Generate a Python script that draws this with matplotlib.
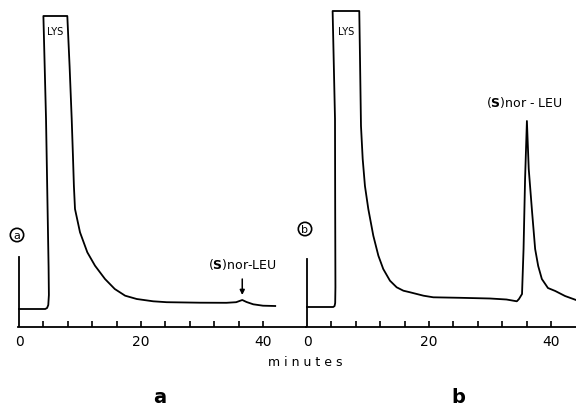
import matplotlib
matplotlib.use("Agg")
import matplotlib.pyplot as plt
from matplotlib.ticker import FixedLocator

# ---- data (minutes, detector response in arbitrary units) ----
a_time = [0, 4.3, 4.6, 4.8, 4.9, 4.85, 4.43, 4.0, 7.92, 8.3, 8.64, 8.85, 9.0, 9.18,
          10.0, 11.2, 12.46, 14.1, 15.7, 17.4, 19.3, 22.0, 24.2, 29.7, 34.0, 35.6,
          36.6, 37.3, 38.4, 40.0, 42.0]
a_resp = [18, 18, 19, 22, 32, 60, 208, 311, 311, 260, 208, 170, 141, 118,
          94.7, 74.7, 61.3, 48, 38, 31.3, 28, 25.7, 24.8, 24.3, 24.2, 24.8,
          27, 25, 22.7, 21.3, 21]

b_time = [0, 4.3, 4.52, 4.62, 4.66, 4.62, 4.59, 4.2, 8.57, 8.69, 8.85, 9.13, 9.5,
          10.05, 10.87, 11.7, 12.5, 13.6, 14.7, 15.8, 16.9, 19.1, 20.7, 25.1,
          30.0, 32.7, 34.4, 34.75, 35.25, 35.5, 35.75, 36.05, 36.35, 36.9, 37.4,
          37.9, 38.5, 39.5, 40.7, 42.3, 44.1]
b_resp = [20, 20, 21, 24, 40, 120, 208, 316, 316, 268, 201, 168, 141,
          118, 91.3, 71.3, 58, 46.3, 39.7, 36.3, 34.7, 31.3, 29.7, 29.2,
          28.5, 27.5, 25.7, 28, 33, 78, 148, 206, 158, 115, 78,
          61, 48, 39, 36, 31, 27]

inject_a = 70
inject_b = 68
tick_minutes = [4, 8, 12, 16, 20, 24, 28, 32, 36, 40]
label_minutes = [0, 20, 40]
peak_label = r"($\mathbf{S}$)nor-LEU"

# ---- figure ----
W, H = 576, 410
fig = plt.figure(figsize=(W / 100, H / 100), dpi=100)
px = 6.1  # pixels per minute
bottom = (H - 328) / H
height = 328 / H

def make_ax(left_px, right_px, zero_px):
    ax = fig.add_axes([left_px / W, bottom, (right_px - left_px) / W, height])
    ax.set_xlim((left_px - zero_px) / px, (right_px - zero_px) / px)
    ax.set_ylim(0, 328)
    for s in ("left", "right", "top"):
        ax.spines[s].set_visible(False)
    ax.spines["bottom"].set_linewidth(1.3)
    ax.set_yticks([])
    ax.xaxis.remove_overlapping_locs = False
    ax.xaxis.set_major_locator(FixedLocator(label_minutes))
    ax.xaxis.set_minor_locator(FixedLocator(tick_minutes))
    ax.tick_params(axis="x", which="major", length=0, pad=5, labelsize=10)
    ax.tick_params(axis="x", which="minor", direction="in", length=4, width=1.2)
    ax.set_facecolor("none")
    return ax

ax_a = make_ax(18, 306, 19)
ax_b = make_ax(306, 576, 307)

lw = 1.3
ax_a.plot(a_time, a_resp, color="black", lw=lw, solid_joinstyle="round")
ax_a.plot([0, 0], [0, inject_a], color="black", lw=lw)
ax_b.plot(b_time, b_resp, color="black", lw=lw, solid_joinstyle="round")
ax_b.plot([0, 0], [0, inject_b], color="black", lw=lw)

# labels inside panels
ax_a.text(5.9, 296, "LYS", ha="center", va="center", fontsize=7)
ax_b.text(6.4, 296, "LYS", ha="center", va="center", fontsize=7)
ax_a.text(36.7, 63, peak_label, ha="center", va="center", fontsize=9)
ax_b.text(35.7, 225, peak_label.replace("-", " - "), ha="center", va="center", fontsize=9)
ax_a.annotate("", xy=(36.6, 32), xytext=(36.6, 48),
              arrowprops=dict(arrowstyle="-|>", color="black", lw=1.1,
                              mutation_scale=7, shrinkA=0, shrinkB=0))

circ = dict(boxstyle="circle,pad=0.15", fc="white", ec="black", lw=1.2)
ax_a.text(-0.33, 92, "a", ha="center", va="center", fontsize=8, bbox=circ, clip_on=False)
ax_b.text(-0.33, 98, "b", ha="center", va="center", fontsize=8, bbox=circ, clip_on=False)

fig.text(305 / W, 1 - 363 / H, "m i n u t e s", ha="center", va="center", fontsize=9)
fig.text(160 / W, 1 - 398 / H, "a", ha="center", va="center", fontsize=14, fontweight="bold")
fig.text(458 / W, 1 - 398 / H, "b", ha="center", va="center", fontsize=14, fontweight="bold")

fig.savefig("out.png", dpi=100, facecolor="white")
